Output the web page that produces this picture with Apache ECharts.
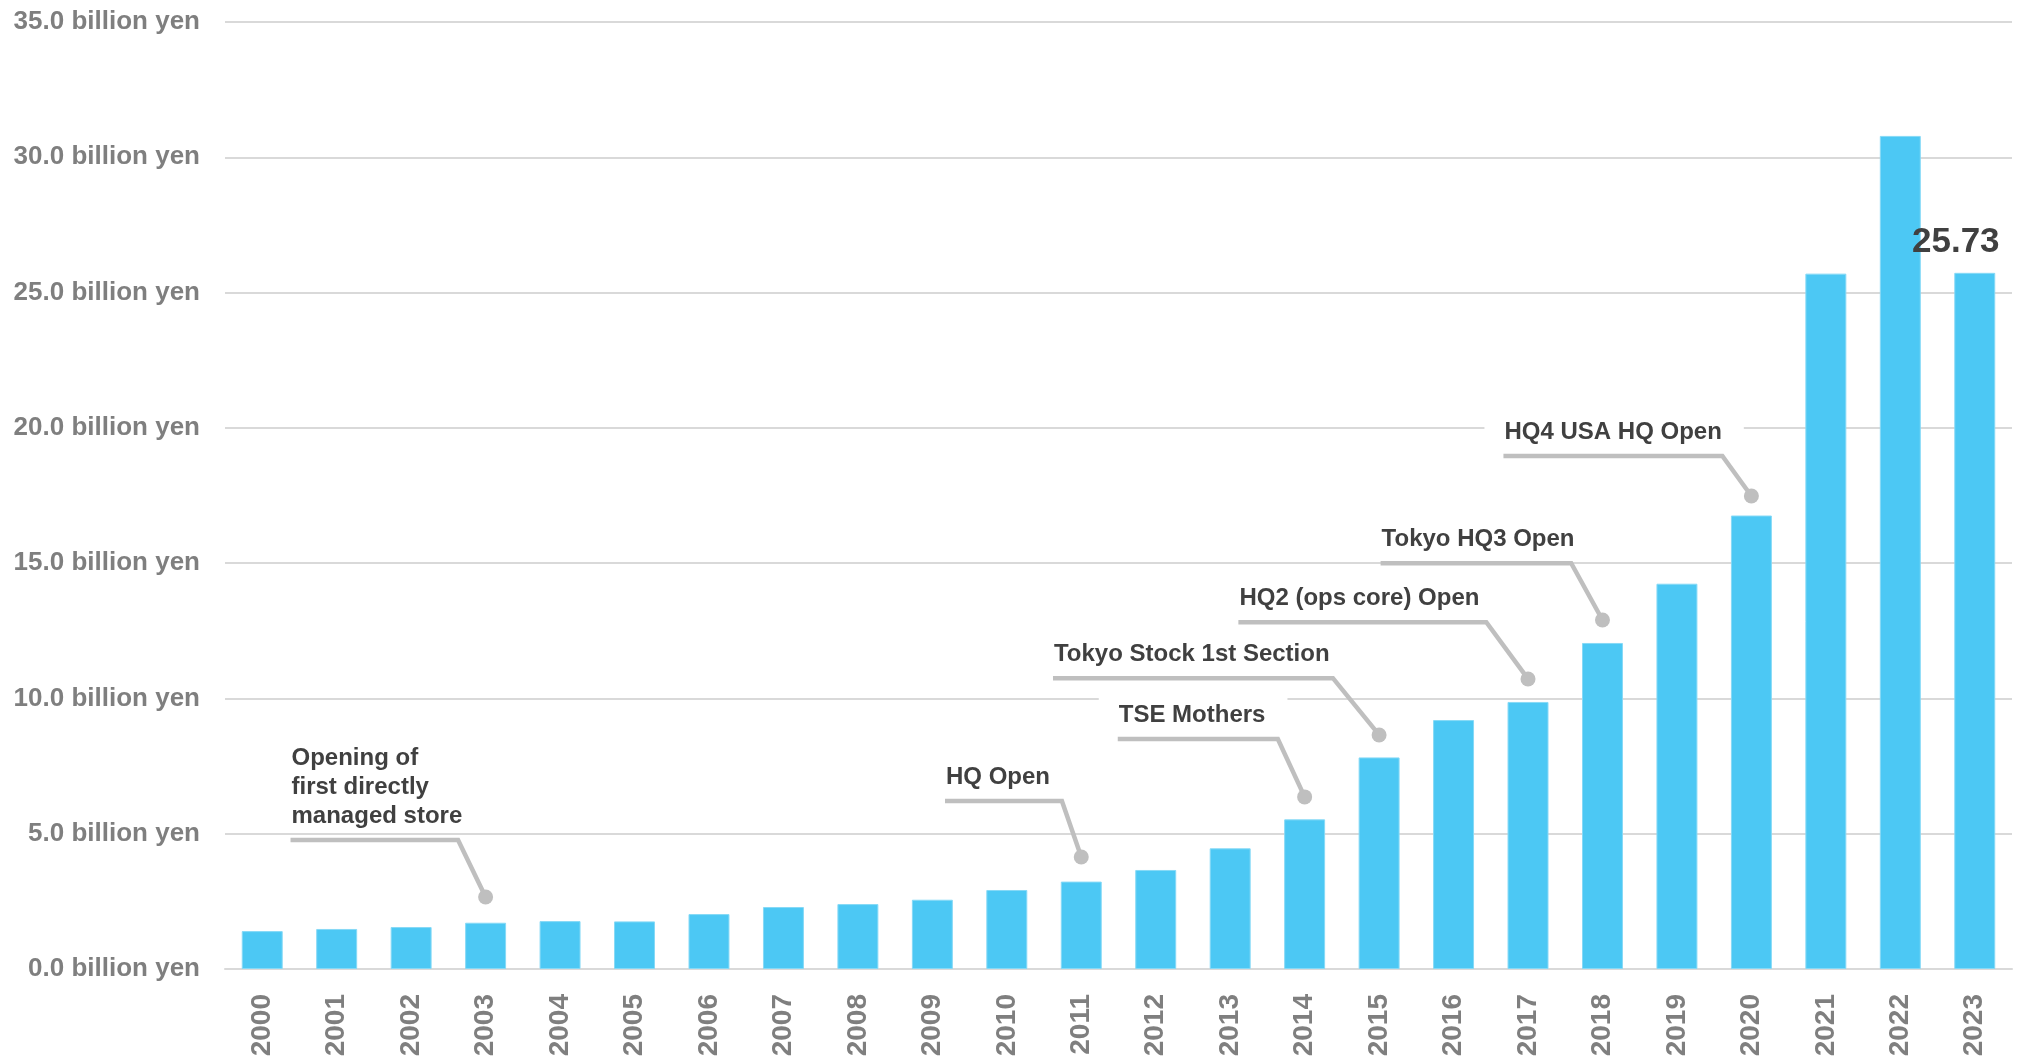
<!DOCTYPE html>
<html>
<head>
<meta charset="utf-8">
<script src="https://cdn.jsdelivr.net/npm/echarts@6/dist/echarts.min.js"></script>
<style>
html,body{margin:0;padding:0;background:#fff;}
#chart{width:2020px;height:1062px;}
</style>
</head>
<body>
<div id="chart"></div>
<script>
// ---- data ----
var years = ['2000','2001','2002','2003','2004','2005','2006','2007','2008','2009','2010','2011',
             '2012','2013','2014','2015','2016','2017','2018','2019','2020','2021','2022','2023'];
var sales = [1.40, 1.48, 1.55, 1.71, 1.77, 1.76, 2.03, 2.29, 2.40, 2.56, 2.92, 3.23,
             3.66, 4.46, 5.53, 7.82, 9.20, 9.87, 12.05, 14.24, 16.76, 25.70, 30.79, 25.73];
var yTicks = [0, 5, 10, 15, 20, 25, 30, 35];
var labelledYear = '2023';

// milestone annotations
var noteYears = ['2003', '2011', '2014', '2015', '2017', '2018', '2020'];
var noteTexts = ['Opening of\nfirst directly\nmanaged store', 'HQ Open', 'TSE Mothers',
                 'Tokyo Stock 1st Section', 'HQ2 (ops core) Open', 'Tokyo HQ3 Open', 'HQ4 USA HQ Open'];
// leader geometry (value units for heights, category units for horizontal offsets)
var noteDotValue  = [2.66, 4.14, 6.36, 8.65, 10.72, 12.90, 17.48];
var noteLineValue = [4.77, 6.21, 8.50, 10.75, 12.82, 15.00, 18.96];
var noteStart     = [-2.62, -1.83, -2.51, -4.38, -3.89, -2.98, -3.33];
var noteElbow     = [-0.37, -0.26, -0.36, -0.62, -0.56, -0.42, -0.39];

var FONT = '"Liberation Sans", Arial, Helvetica, sans-serif';
var chart = echarts.init(document.getElementById('chart'));

var barData = sales.map(function (v, i) {
  if (years[i] === labelledYear) {
    return {
      value: v,
      label: {
        show: true, position: 'top', distance: 13, offset: [-19, 0],
        formatter: function (p) { return p.value.toFixed(2); },
        color: '#404040', fontSize: 35, fontWeight: 'bold', fontFamily: FONT
      }
    };
  }
  return v;
});

var noteData = noteYears.map(function (y, i) {
  return [years.indexOf(y), noteDotValue[i], noteLineValue[i], noteStart[i], noteElbow[i], i];
});

function renderNote(params, api) {
  var idx = api.value(0);
  var i = api.value(5);
  var band = api.size([1, 0])[0];
  var dot = api.coord([idx, api.value(1)]);
  var lineY = api.coord([idx, api.value(2)])[1];
  var cx = dot[0];
  var startX = cx + api.value(3) * band;
  var elbowX = cx + api.value(4) * band;
  var text = noteTexts[i];
  var nLines = text.split('\n').length;
  var lh = 29;
  var multi = nLines > 1;
  var padL = multi ? 0 : 20;
  return {
    type: 'group',
    children: [
      {
        type: 'text',
        style: {
          text: text,
          x: startX + 1 - padL,
          y: lineY - 24 - (nLines - 1) * lh / 2,
          fill: '#404040',
          font: 'bold 24px ' + FONT,
          lineHeight: lh,
          align: 'left',
          verticalAlign: 'middle',
          backgroundColor: multi ? null : '#ffffff',
          padding: multi ? 0 : [8, 22, 8, padL]
        }
      },
      {
        type: 'polyline',
        shape: { points: [[startX, lineY], [elbowX, lineY], [cx, dot[1]]] },
        style: { stroke: '#bfbfbf', lineWidth: 4.5, fill: null, lineJoin: 'miter' }
      },
      {
        type: 'circle',
        shape: { cx: cx, cy: dot[1], r: 7.5 },
        style: { fill: '#bfbfbf' }
      }
    ]
  };
}

chart.setOption({
  animation: false,
  backgroundColor: '#ffffff',
  grid: { left: 225, right: 8, top: 22, bottom: 93, containLabel: false },
  xAxis: {
    type: 'category',
    data: years,
    axisLine: { show: true, lineStyle: { color: '#d9d9d9', width: 2 } },
    axisTick: { show: false },
    axisLabel: {
      rotate: 90, margin: 25, interval: 0,
      color: '#7f7f7f', fontSize: 28, fontWeight: 'bold', fontFamily: FONT
    }
  },
  yAxis: {
    type: 'value',
    min: yTicks[0], max: yTicks[yTicks.length - 1], interval: yTicks[1] - yTicks[0],
    axisLine: { show: false },
    axisTick: { show: false },
    splitLine: { lineStyle: { color: '#d9d9d9', width: 2 } },
    axisLabel: {
      margin: 25, padding: [4, 0, 0, 0],
      color: '#7f7f7f', fontSize: 26, fontWeight: 'bold', fontFamily: FONT,
      formatter: function (v) { return v.toFixed(1) + ' billion yen'; }
    }
  },
  series: [
    {
      type: 'bar',
      data: barData,
      barWidth: '55%',
      itemStyle: { color: '#4cc8f4', borderColor: '#86d9f6', borderWidth: 1 },
      z: 2
    },
    {
      type: 'custom',
      coordinateSystem: 'cartesian2d',
      renderItem: renderNote,
      data: noteData,
      encode: { x: 0, y: 1 },
      clip: false,
      silent: true,
      z: 3
    }
  ]
});
</script>
</body>
</html>
